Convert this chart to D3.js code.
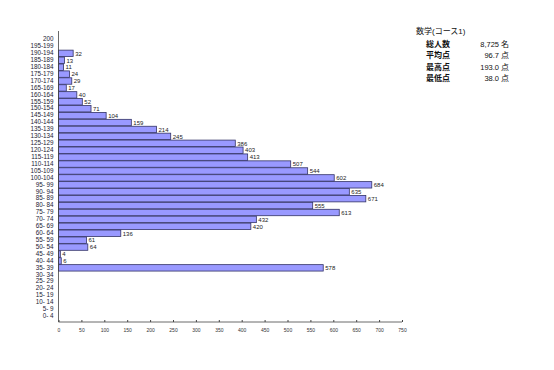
<!DOCTYPE html>
<html>
<head>
<meta charset="utf-8">
<script src="https://cdn.jsdelivr.net/npm/d3@7"></script>
<style>
  body { margin: 0; background: #fff; }
  svg { font-family: "Liberation Sans", "Noto Sans CJK JP", sans-serif; }
</style>
</head>
<body>
<svg></svg>
<script>
let categories = ['200', '195-199', '190-194', '185-189', '180-184', '175-179', '170-174', '165-169',
  '160-164', '155-159', '150-154', '145-149', '140-144', '135-139', '130-134', '125-129',
  '120-124', '115-119', '110-114', '105-109', '100-104', '95- 99', '90- 94', '85- 89',
  '80- 84', '75- 79', '70- 74', '65- 69', '60- 64', '55- 59', '50- 54', '45- 49',
  '40- 44', '35- 39', '30- 34', '25- 29', '20- 24', '15- 19', '10- 14', '5- 9', '0- 4'];
let counts = [0, 0, 32, 13, 11, 24, 29, 17,
  40, 52, 71, 104, 159, 214, 245, 386,
  403, 413, 507, 544, 602, 684, 635, 671,
  555, 613, 432, 420, 136, 61, 64, 4,
  6, 578, 0, 0, 0, 0, 0, 0, 0];
let xTicks = [0, 50, 100, 150, 200, 250, 300, 350, 400, 450, 500, 550, 600, 650, 700, 750];
let statLabels = ['総人数', '平均点', '最高点', '最低点'];
let statValues = ['8,725', '96.7', '193.0', '38.0'];
let statUnits = ['名', '点', '点', '点'];
let title = '数学(コース1)';

let width = 554;
let height = 370;

let svg = d3.select('svg')
  .attr('width', width)
  .attr('height', height);

let values = categories.map((c, i) => ({ label: c, count: counts[i] }));

let xScale = d3.scaleLinear()
  .domain([0, 750])
  .range([58.5, 402]);

let yScale = d3.scaleBand()
  .domain(categories)
  .range([35.8, 319.5])
  .padding(0);

// bars
svg.selectAll('rect.bar')
  .data(values.filter(d => d.count > 0))
  .enter()
  .append('rect')
  .attr('class', 'bar')
  .attr('x', xScale(0))
  .attr('y', d => yScale(d.label) + 0.5)
  .attr('width', d => xScale(d.count) - xScale(0))
  .attr('height', yScale.bandwidth() - 0.5)
  .attr('fill', '#9999ff')
  .attr('stroke', '#333366')
  .attr('stroke-width', 0.8);

// bar labels
svg.selectAll('text.val')
  .data(values.filter(d => d.count > 0))
  .enter()
  .append('text')
  .attr('class', 'val')
  .attr('x', d => xScale(d.count) + 2)
  .attr('y', d => yScale(d.label) + yScale.bandwidth() / 2 + 2.5)
  .attr('font-size', 6)
  .attr('fill', '#222')
  .text(d => d.count);

// y axis
let yAxis = d3.axisLeft(yScale).tickSize(0).tickPadding(5);
let gy = svg.append('g')
  .attr('transform', `translate(${xScale(0)},0)`)
  .call(yAxis);
gy.select('.domain').attr('d', 'M0,31V322').attr('stroke', '#444').attr('stroke-width', 0.8);
gy.selectAll('text').attr('font-size', 6.3).attr('fill', '#223').attr('font-family', 'Liberation Sans');

// x axis
let xAxis = d3.axisBottom(xScale).tickValues(xTicks).tickSize(-2).tickPadding(6);
let gx = svg.append('g')
  .attr('transform', 'translate(0,322)')
  .call(xAxis);
gx.select('.domain').attr('d', `M${xScale(0)},0H${xScale(750)}`).attr('stroke', '#444').attr('stroke-width', 0.8);
gx.selectAll('line').attr('stroke', '#444');
gx.selectAll('text').attr('font-size', 5).attr('fill', '#333').attr('font-family', 'Liberation Sans');

// stats box
svg.append('text')
  .attr('x', 416)
  .attr('y', 34)
  .attr('font-size', 8)
  .attr('fill', '#111')
  .text(title);

let rowY = [46.5, 58, 69.5, 80.5];
statLabels.forEach((s, i) => {
  svg.append('text')
    .attr('x', 426)
    .attr('y', rowY[i])
    .attr('font-size', 8)
    .attr('font-weight', 'bold')
    .attr('fill', '#111')
    .text(s);
  svg.append('text')
    .attr('x', 499)
    .attr('y', rowY[i])
    .attr('text-anchor', 'end')
    .attr('font-size', 7.5)
    .attr('fill', '#111')
    .text(statValues[i]);
  svg.append('text')
    .attr('x', 501)
    .attr('y', rowY[i])
    .attr('font-size', 8)
    .attr('fill', '#111')
    .text(statUnits[i]);
});
</script>
</body>
</html>
